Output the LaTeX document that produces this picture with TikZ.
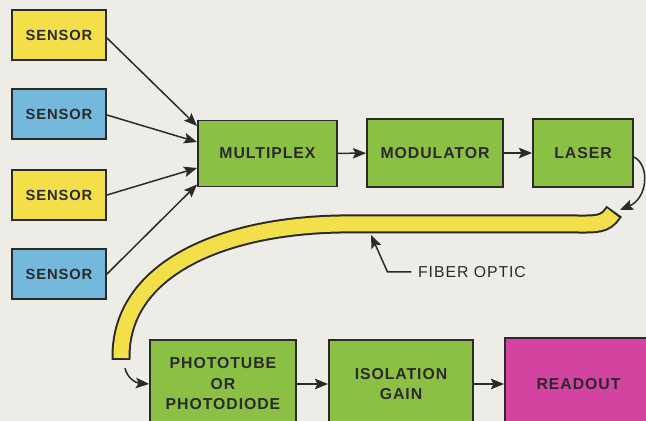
\documentclass[tikz,border=0pt]{standalone}
\usepackage{fontspec}
\usetikzlibrary{arrows.meta}
\setmainfont{Liberation Sans}
\newfontfamily\boxfont[LetterSpace=6]{Liberation Sans}
\definecolor{paper}{HTML}{EEECE6}
\definecolor{sensyellow}{HTML}{F2DF4A}
\definecolor{sensblue}{HTML}{74B9DC}
\definecolor{stagegreen}{HTML}{8CC044}
\definecolor{readpink}{HTML}{D2449F}
\definecolor{ink}{HTML}{2B2A2A}
\begin{document}
\begin{tikzpicture}[x=0.02cm, y=-0.02cm, >={Stealth[length=7.5pt,width=6pt,inset=1.5pt]}, line width=0.85pt, color=ink,
  block/.style={draw=ink, line width=1.1pt, rectangle, align=center, text=ink, font=\boxfont\bfseries\fontsize{9}{11.7}\selectfont},
  sensor/.style={block, minimum width=1.88cm, minimum height=1cm, font=\boxfont\bfseries\fontsize{8.4}{10}\selectfont},
  stage/.style={block, fill=stagegreen, minimum height=1.32cm}]
\fill[paper] (0,0) rectangle (646,421);
\useasboundingbox (0,0) rectangle (646,421);
\clip (0,0) rectangle (646,421);
\node[sensor, fill=sensyellow] (s1) at (59,35) {SENSOR};
\node[sensor, fill=sensblue] (s2) at (59,114) {SENSOR};
\node[sensor, fill=sensyellow] (s3) at (59,195) {SENSOR};
\node[sensor, fill=sensblue] (s4) at (59,274) {SENSOR};
\node[stage, minimum width=2.78cm] (mux) at (267.5,153.5) {MULTIPLEX};
\node[stage, minimum width=2.72cm, minimum height=1.36cm] (mod) at (435,153) {MODULATOR};
\node[stage, minimum width=2cm, minimum height=1.36cm] (laser) at (583,153) {LASER};
\node[stage, minimum width=2.92cm, minimum height=1.76cm] (photo) at (223,384) {PHOTOTUBE\\OR\\PHOTODIODE};
\node[stage, minimum width=2.88cm, minimum height=1.76cm] (iso) at (401,384) {ISOLATION\\GAIN};
\node[block, fill=readpink, minimum width=2.94cm, minimum height=1.84cm] (read) at (578.5,384) {READOUT};
\draw[->] ([yshift=-0.06cm]s1.east) -- ([yshift=0.55cm]mux.west);
\draw[->] ([yshift=-0.02cm]s2.east) -- ([yshift=0.23cm]mux.west);
\draw[->] (s3.east) -- ([yshift=-0.29cm]mux.west);
\draw[->] (s4.east) -- ([yshift=-0.62cm]mux.west);
\draw[->] (mux) -- (mod);
\draw[->] (mod) -- (laser);
\draw[->] (photo) -- (iso);
\draw[->] (iso) -- (read);
\draw[ink, line width=0.38cm] (614.2,211.3) -- (613,213) .. controls (605,225) and (596,224) .. (575,224) -- (340,224) .. controls (220,226) and (120,270) .. (121,358) -- (121,360);
\draw[sensyellow, line width=0.30cm] (613,213) .. controls (605,225) and (596,224) .. (575,224) -- (340,224) .. controls (220,226) and (120,270) .. (121,358);
\coordinate (fibR) at (620,210);
\coordinate (fibL) at (125,368);
\coordinate (fibB) at (371,235);
\draw[->] ([yshift=-0.08cm]laser.east) .. controls (650,165) and (648,198) .. (fibR);
\draw[->] (fibL) .. controls (127,378) and (136,383) .. (photo.west);
\node[text=ink, font=\boxfont\fontsize{9}{10}\selectfont] (fiblabel) at (472,272) {FIBER OPTIC};
\draw[->] (fiblabel.west) -- ++(-24,0) -- (fibB);
\end{tikzpicture}
\end{document}
